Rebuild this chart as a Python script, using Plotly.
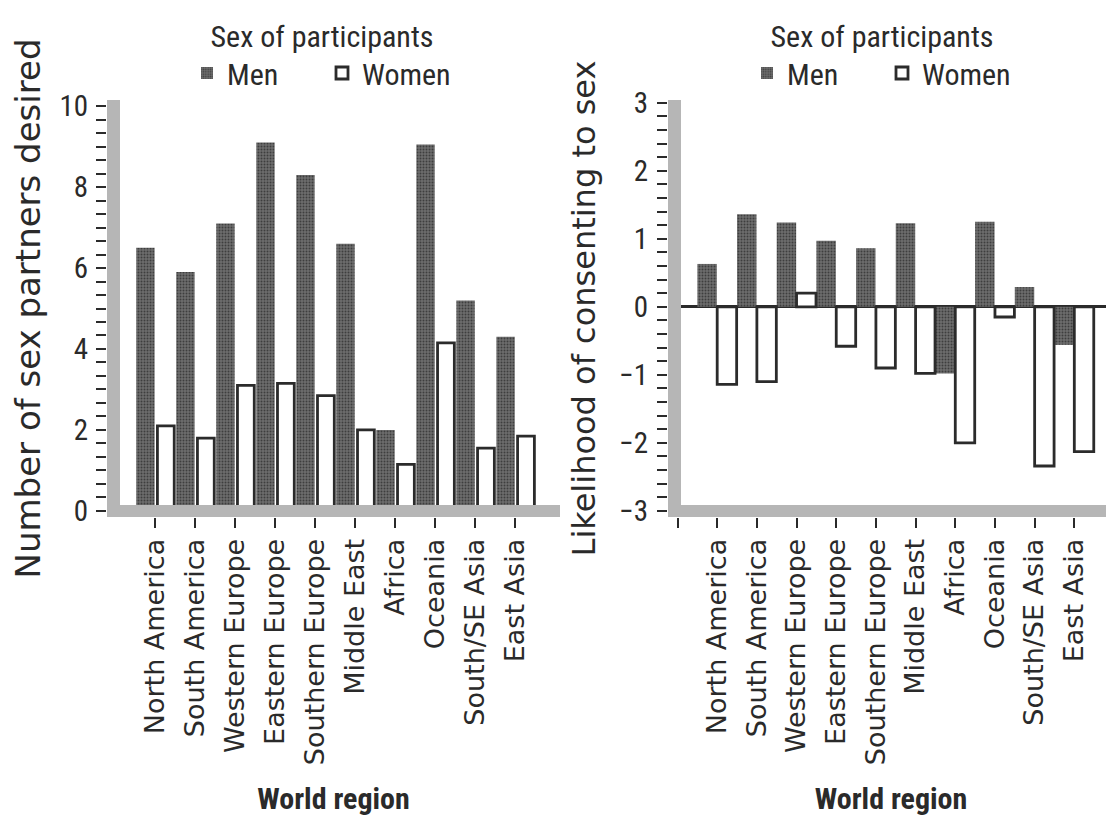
import plotly.graph_objects as go

regions = ["North America", "South America", "Western Europe", "Eastern Europe",
           "Southern Europe", "Middle East", "Africa", "Oceania", "South/SE Asia", "East Asia"]

partners_men = [6.5, 5.9, 7.1, 9.1, 8.3, 6.6, 2.0, 9.05, 5.2, 4.3]
partners_women = [2.1, 1.8, 3.1, 3.15, 2.85, 2.0, 1.15, 4.15, 1.55, 1.85]

consent_men = [0.63, 1.36, 1.24, 0.97, 0.86, 1.23, -0.98, 1.25, 0.29, -0.56]
consent_women = [-1.14, -1.10, 0.20, -0.58, -0.90, -0.98, -2.00, -0.15, -2.34, -2.13]

# the page body has an 8px default margin; size the figure to fit the window
PAGE_OFF = 8
W, H = 1114 - PAGE_OFF, 819 - PAGE_OFF


def px_x(p):
    return (p - PAGE_OFF) / W


def px_y(p):
    return 1 - (p - PAGE_OFF) / H


MEN_C = "#626262"
WOMEN_LINE = "#2b2b2b"
BAND_C = "#b6b6b6"
INK = "#2a2a2a"

NARROW = "Liberation Sans Narrow, Roboto Condensed, Lato, sans-serif"
WIDE = "DejaVu Sans, Verdana, sans-serif"

men_marker = dict(color=MEN_C, line=dict(width=0),
                  pattern=dict(shape=".", fgcolor="#3e3e3e", bgcolor="#6e6e6e",
                               size=3, solidity=0.35, fillmode="replace"))
women_marker = dict(color="white", line=dict(width=2.8, color=WOMEN_LINE))

xi = list(range(len(regions)))

fig = go.Figure()

# left panel
fig.add_trace(go.Bar(x=xi, y=partners_men, name="Men", xaxis="x", yaxis="y",
                     offset=-0.47, width=0.46, marker=men_marker, legend="legend"))
fig.add_trace(go.Bar(x=xi, y=partners_women, name="Women", xaxis="x", yaxis="y",
                     offset=0.06, width=0.42, marker=women_marker, legend="legend"))
# right panel
fig.add_trace(go.Bar(x=xi, y=consent_men, name="Men", xaxis="x2", yaxis="y2",
                     offset=-0.5, width=0.49, marker=men_marker, legend="legend2"))
fig.add_trace(go.Bar(x=xi, y=consent_women, name="Women", xaxis="x2", yaxis="y2",
                     offset=0.0, width=0.49, marker=women_marker, legend="legend2"))

ydom = [px_y(517), px_y(100)]

tick_common = dict(ticks="outside", ticklen=10, tickwidth=2, tickcolor=INK,
                   showgrid=False, zeroline=False, showline=False)

legend_common = dict(orientation="h", xanchor="center", y=1.0, yanchor="top",
                     font=dict(family=NARROW, size=30, color=INK), itemwidth=30,
                     entrywidth=90, bgcolor="rgba(0,0,0,0)", traceorder="normal",
                     title=dict(text="Sex of participants", side="top center",
                                font=dict(family=NARROW, size=30, color=INK)))

fig.update_layout(
    width=W, height=H,
    margin=dict(l=0, r=0, t=0, b=0, autoexpand=False),
    paper_bgcolor="white", plot_bgcolor="white",
    barmode="overlay",
    xaxis=dict(domain=[px_x(107), px_x(560)], range=[-1.2, 10.12],
               tickvals=xi, ticktext=regions, tickangle=-90,
               tickfont=dict(family=WIDE, size=27, color=INK),
               title=dict(text="<b>World region</b>", standoff=23,
                          font=dict(family=NARROW, size=30, color=INK)),
               anchor="y", **tick_common),
    yaxis=dict(domain=ydom, range=[-0.15, 10.15], tickvals=[0, 2, 4, 6, 8, 10],
               tickfont=dict(family=NARROW, size=29, color=INK), ticklabelstandoff=2,
               minor=dict(ticks="outside", dtick=1 / 3, tick0=0, ticklen=10,
                          tickwidth=2, tickcolor=INK, showgrid=False),
               title=dict(text="Number of sex partners desired", standoff=18,
                          font=dict(family=WIDE, size=34, color=INK)),
               anchor="x", **tick_common),
    xaxis2=dict(domain=[px_x(668), 1.0], range=[-1.24, 10.0],
                tickvals=list(range(-1, len(regions) + 1)),
                ticktext=[""] + regions + [""], tickangle=-90,
                tickfont=dict(family=WIDE, size=27, color=INK),
                title=dict(text="<b>World region</b>", standoff=23,
                           font=dict(family=NARROW, size=30, color=INK)),
                anchor="y2", **tick_common),
    yaxis2=dict(domain=ydom, range=[-3.09, 3.04], dtick=1, tick0=0,
                tickfont=dict(family=NARROW, size=29, color=INK), ticklabelstandoff=3,
                minor=dict(ticks="outside", dtick=0.2, tick0=0, ticklen=10,
                           tickwidth=2, tickcolor=INK, showgrid=False),
                title=dict(text="Likelihood of consenting to sex", standoff=14,
                           font=dict(family=WIDE, size=32, color=INK)),
                anchor="x2", ticks="outside", ticklen=10, tickwidth=2, tickcolor=INK,
                showgrid=False, showline=False,
                zeroline=True, zerolinecolor=INK, zerolinewidth=2.5),
    legend=dict(x=px_x(322), **legend_common),
    legend2=dict(x=px_x(882), **legend_common),
    showlegend=True,
)

# thick grey axis bands (decoration), drawn over the bar bases
for xr, yr in (("x domain", "y domain"), ("x2 domain", "y2 domain")):
    fig.add_shape(type="rect", xref=xr, yref=yr, xsizemode="pixel", xanchor=0,
                  x0=0, x1=13, y0=0, y1=1, fillcolor=BAND_C, line=dict(width=0),
                  layer="above")
    fig.add_shape(type="rect", xref=xr, yref=yr, ysizemode="pixel", yanchor=0,
                  x0=0, x1=1, y0=0, y1=12, fillcolor=BAND_C, line=dict(width=0),
                  layer="above")

fig.write_html("out.html")
